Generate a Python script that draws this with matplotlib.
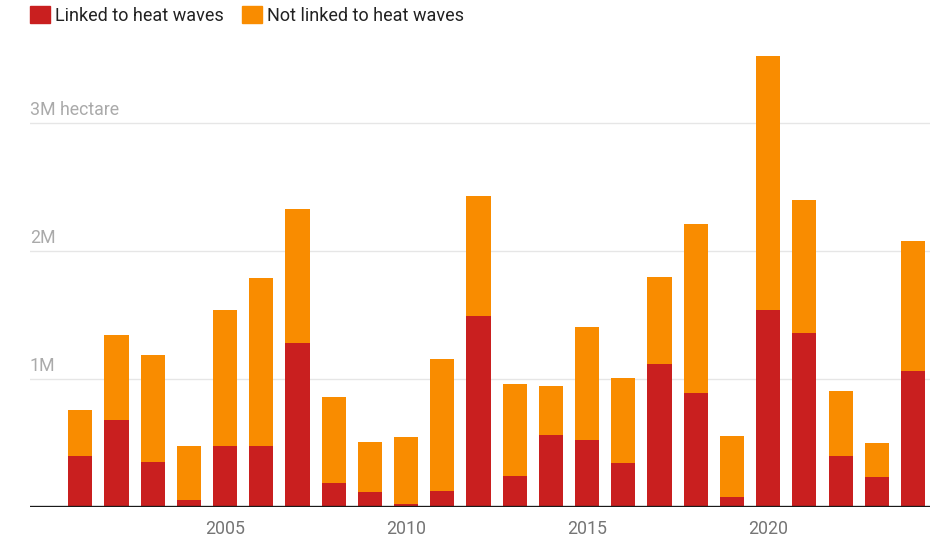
import matplotlib.pyplot as plt
import matplotlib.transforms as mtransforms
from matplotlib.patches import Patch

plt.rcParams['font.family'] = ['Roboto', 'DejaVu Sans']

years = list(range(2001, 2025))
# million hectare
linked = [0.40, 0.68, 0.35, 0.055, 0.48, 0.48, 1.28, 0.19, 0.12, 0.02, 0.125, 1.49,
          0.24, 0.56, 0.52, 0.34, 1.12, 0.89, 0.08, 1.54, 1.36, 0.40, 0.235, 1.06]
total = [0.76, 1.34, 1.19, 0.48, 1.54, 1.79, 2.33, 0.86, 0.51, 0.55, 1.16, 2.43,
         0.96, 0.945, 1.41, 1.01, 1.80, 2.21, 0.555, 3.52, 2.40, 0.91, 0.50, 2.08]
not_linked = [t - l for t, l in zip(total, linked)]

y_ticks = [1, 2, 3]
y_tick_labels = ['1M', '2M', '3M hectare']
x_ticks = [2005, 2010, 2015, 2020]

red = '#c91f1f'
orange = '#f98c00'

W, H = 943, 559
fig = plt.figure(figsize=(W / 100, H / 100), dpi=100)
ax = fig.add_axes([30 / W, (H - 507) / H, 900 / W, 477 / H])

ax.bar(years, linked, width=0.667, color=red, zorder=3)
ax.bar(years, not_linked, width=0.667, bottom=linked, color=orange, zorder=3)

ax.set_xlim(1999.61, 2024.47)
ax.set_ylim(0, 477 / 128)

for s in ax.spines.values():
    s.set_visible(False)
ax.axhline(0, color='#1a1a1a', lw=2.4, zorder=4)

# y labels sit inside the plot, just above their gridline
trans = mtransforms.blended_transform_factory(ax.transAxes, ax.transData)
nudge = mtransforms.ScaledTranslation(0, 4 / 100, fig.dpi_scale_trans)
for v, lab in zip(y_ticks, y_tick_labels):
    ax.axhline(v, color='#e6e6e6', lw=1, zorder=1)
    ax.text(0, v, lab, transform=trans + nudge, ha='left', va='bottom',
            fontsize=12.8, color='#aaaaaa')

ax.set_yticks([])
ax.set_xticks(x_ticks)
ax.set_xticklabels([str(x) for x in x_ticks], fontsize=12.8, color='#757575')
ax.tick_params(axis='x', length=0, pad=9)

handles = [Patch(color=red, label='Linked to heat waves'),
           Patch(color=orange, label='Not linked to heat waves')]
fig.legend(handles=handles, loc='upper left', bbox_to_anchor=(30 / W, 1 - 6 / H),
           ncol=2, frameon=False, fontsize=13, handlelength=1.1, handleheight=1.1,
           handletextpad=0.3, columnspacing=1.0, borderaxespad=0, borderpad=0,
           labelcolor='#222222')

fig.savefig('out.png', dpi=100)
